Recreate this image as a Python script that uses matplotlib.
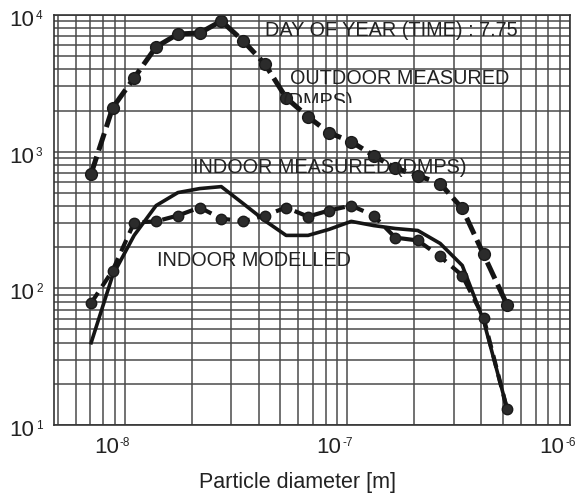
import matplotlib
matplotlib.use("Agg")
import matplotlib.pyplot as plt
import matplotlib.transforms as mtransforms
from matplotlib.patches import Rectangle

plt.rcParams['font.family'] = ['Liberation Sans', 'DejaVu Sans']

# Particle diameter bins [m]
diameter = [7.05e-9, 8.8e-9, 1.10e-8, 1.38e-8, 1.73e-8, 2.17e-8, 2.71e-8, 3.4e-8,
            4.25e-8, 5.3e-8, 6.65e-8, 8.26e-8, 1.04e-7, 1.31e-7, 1.64e-7, 2.07e-7,
            2.61e-7, 3.28e-7, 4.09e-7, 5.21e-7]

outdoor_measured = [690, 2090, 3470, 5840, 7260, 7390, 9040, 6460, 4390, 2480,
                    1800, 1376, 1183, 935, 760, 668, 584, 384, 177, 76]

indoor_measured = [78, 135, 303, 309, 341, 390, 324, 309, 341, 390,
                   335, 371, 403, 341, 235, 224, 171, 124, 61, 13.1]

indoor_modelled = [40, 124, 244, 403, 502, 537, 555, 417, 313, 244,
                   244, 270, 309, 288, 274, 265, 213, 147, 58, 13.3]

x_ticks = [1e-8, 1e-7, 1e-6]
x_exponents = ['-8', '-7', '-6']
y_ticks = [1e1, 1e2, 1e3, 1e4]
y_exponents = ['1', '2', '3', '4']

fig = plt.figure(figsize=(5.76, 4.93), dpi=100)
ax = fig.add_axes([54/576, 68/493, 516/576, 410/493])

ax.set_xscale('log')
ax.set_yscale('log')
ax.set_xlim(4.8e-9, 1.0e-6)
ax.set_ylim(10, 1e4)

ax.grid(True, which='both', color='#4a4a4a', linewidth=1.1)
ax.set_axisbelow(True)

ax.plot(diameter, indoor_modelled, color='#151515', linewidth=2.6, linestyle='-')
ax.plot(diameter, indoor_measured, color='#151515', linewidth=3.0,
        linestyle=(0, (3.0, 1.8)), marker='o', markersize=7.5,
        markerfacecolor='#2b2b2b', markeredgecolor='#1a1a1a')
ax.plot(diameter, outdoor_measured, color='#151515', linewidth=3.6,
        linestyle=(0, (3.6, 1.3)), marker='o', markersize=8.5,
        markerfacecolor='#2b2b2b', markeredgecolor='#1a1a1a')

fs = 14.3
tc = '#222222'
ax.text(0.409, 0.963, 'DAY OF YEAR (TIME) : 7.75', fontsize=fs, color=tc,
        ha='left', va='center', transform=ax.transAxes)
ax.text(0.457, 0.846, 'OUTDOOR MEASURED', fontsize=fs, color=tc,
        ha='left', va='center', transform=ax.transAxes)
t = ax.text(0.444, 0.812, '(DMPS)', fontsize=fs, color=tc,
            ha='left', va='top', transform=ax.transAxes)
clip = Rectangle((0, 0.785), 1, 0.3, transform=ax.transAxes, visible=False)
ax.add_patch(clip)
t.set_clip_on(True)
t.set_clip_path(clip)
ax.text(0.269, 0.627, 'INDOOR MEASURED (DMPS)', fontsize=fs, color=tc,
        ha='left', va='center', transform=ax.transAxes)
ax.text(0.200, 0.402, 'INDOOR MODELLED', fontsize=fs, color=tc,
        ha='left', va='center', transform=ax.transAxes)

ax.set_xlabel('Particle diameter [m]', fontsize=15.5, color=tc)
ax.xaxis.set_label_coords(0.471, -0.115)

# tick labels drawn as "10" plus a small raised exponent
ax.tick_params(which='both', length=0, labelbottom=False, labelleft=False)
px = 1/100
tick_fs = 16
sup_fs = 8.5
xt = ax.get_xaxis_transform()
for v, e in zip(x_ticks, x_exponents):
    ax.text(v, 0, '10', fontsize=tick_fs, color=tc, ha='right', va='top',
            transform=xt + mtransforms.ScaledTranslation(-6*px, -12*px, fig.dpi_scale_trans),
            clip_on=False)
    ax.text(v, 0, e, fontsize=sup_fs, color=tc, ha='left', va='top',
            transform=xt + mtransforms.ScaledTranslation(-5*px, -12*px, fig.dpi_scale_trans),
            clip_on=False)
yt = ax.get_yaxis_transform()
for v, e in zip(y_ticks, y_exponents):
    ax.text(0, v, '10', fontsize=tick_fs, color=tc, ha='right', va='top',
            transform=yt + mtransforms.ScaledTranslation(-20*px, 5*px, fig.dpi_scale_trans),
            clip_on=False)
    ax.text(0, v, e, fontsize=sup_fs, color=tc, ha='left', va='top',
            transform=yt + mtransforms.ScaledTranslation(-18*px, 5*px, fig.dpi_scale_trans),
            clip_on=False)

for s in ax.spines.values():
    s.set_color('#333333')
    s.set_linewidth(1.2)

fig.savefig('out.png', dpi=100)
